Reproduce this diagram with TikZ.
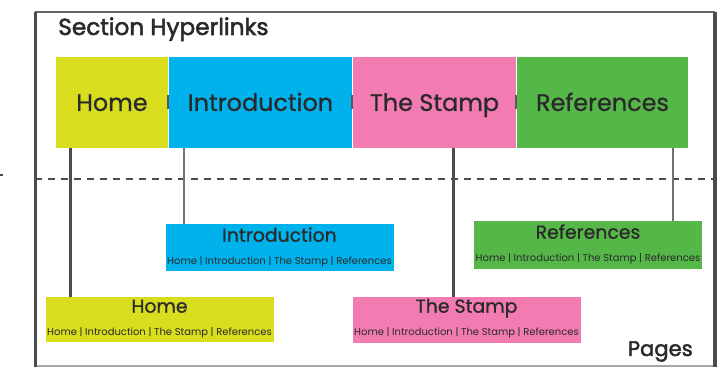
\documentclass[tikz,border=0pt]{standalone}
\usepackage{fontspec}
\setmainfont{Poppins}
\newfontfamily\headfont{Poppins}[FakeBold=2.2]
\newfontfamily\tabfont{Poppins}[FakeBold=0.8]
\definecolor{homeyellow}{HTML}{D8DE1E}
\definecolor{introblue}{HTML}{00B2EC}
\definecolor{stamppink}{HTML}{F27BB1}
\definecolor{refgreen}{HTML}{55B748}
\definecolor{inkdark}{HTML}{2A2A2A}
\newcommand\pxu{0.025cm}
\begin{document}
\begin{tikzpicture}[x=0.025cm, y=-0.025cm,
    tab/.style={inner sep=0pt, minimum height=91*\pxu, text=inkdark,
      font=\tabfont\fontsize{17}{20}\selectfont, text height=12pt, text depth=0pt},
    sepbar/.style={fill=black!65, inner sep=0pt, minimum width=2*\pxu, minimum height=14*\pxu},
    pagebox/.style={inner sep=0pt, minimum width=228*\pxu},
    pagetitle/.style={anchor=base, inner sep=0pt, text=inkdark, font=\tabfont\fontsize{13.4}{15}\selectfont},
    pagelinks/.style={anchor=base, inner sep=0pt, text=inkdark, font=\fontsize{7.1}{8}\selectfont},
    boldwire/.style={draw=black!70, line width=3*\pxu},
    thinwire/.style={draw=black!55, line width=1.8*\pxu}]
        \useasboundingbox (0,0) rectangle (726,367);

        \draw [black!35, line width=1.5*\pxu] (35,366) -- (715,366);
        \draw [black!60, line width=1.5*\pxu] (35,12) -- (715,12);
        \draw [black!70, line width=3*\pxu] (35,12) -- (35,367);
        \draw [black!70, line width=4*\pxu] (715,12) -- (715,367);

        \node [anchor=base west, inner sep=0pt, text=inkdark, font=\headfont\fontsize{16.5}{19}\selectfont] (secTitle) at (58,35) {Section Hyperlinks};
        \node [anchor=base east, inner sep=0pt, text=inkdark, font=\headfont\fontsize{15}{18}\selectfont] (pagesTitle) at (693,356) {Pages};

        \node [tab, fill=homeyellow, minimum width=112*\pxu] (homeTab) at (112,102.5) {Home};
        \node [tab, fill=introblue, minimum width=183*\pxu] (introTab) at (260.5,102.5) {Introduction};
        \node [tab, fill=stamppink, minimum width=163*\pxu] (stampTab) at (434.5,102.5) {The Stamp};
        \node [tab, fill=refgreen, minimum width=171*\pxu] (refTab) at (602.5,102.5) {References};

        \node [sepbar] (sepA) at (homeTab.east) {};
        \node [sepbar] (sepB) at (introTab.east) {};
        \node [sepbar] (sepC) at (stampTab.east) {};

        \draw [black!70, line width=2*\pxu, dash pattern=on 7*\pxu off 6*\pxu] (35,179) -- (715,179);
        \draw [black!70, line width=2*\pxu] (0,175) -- (3,175);

        \node [pagebox, fill=introblue, minimum height=47*\pxu] (introPg) at (279.5,247.5) {};
        \node [pagebox, fill=refgreen, minimum height=48*\pxu] (refPg) at (588,245) {};
        \node [pagebox, fill=homeyellow, minimum height=45*\pxu] (homePg) at (159.5,319.5) {};
        \node [pagebox, fill=stamppink, minimum height=46*\pxu] (stampPg) at (466.5,320) {};

        \node [pagetitle] (introPgT) at ([yshift=-18*\pxu]introPg.north) {Introduction};
        \node [pagelinks] (introPgL) at ([yshift=-41*\pxu]introPg.north) {Home | Introduction | The Stamp | References};
        \node [pagetitle] (refPgT) at ([yshift=-18*\pxu]refPg.north) {References};
        \node [pagelinks] (refPgL) at ([yshift=-41*\pxu]refPg.north) {Home | Introduction | The Stamp | References};
        \node [pagetitle] (homePgT) at ([yshift=-16*\pxu]homePg.north) {Home};
        \node [pagelinks] (homePgL) at ([yshift=-39*\pxu]homePg.north) {Home | Introduction | The Stamp | References};
        \node [pagetitle] (stampPgT) at ([yshift=-16*\pxu]stampPg.north) {The Stamp};
        \node [pagelinks] (stampPgL) at ([yshift=-39*\pxu]stampPg.north) {Home | Introduction | The Stamp | References};

        \coordinate (homeX) at (70,0);
        \coordinate (introX) at (184,0);
        \coordinate (stampX) at (453,0);
        \coordinate (refX) at (673,0);

        \draw [boldwire] (homeTab.south -| homeX) -- (homePg.north -| homeX);
        \draw [thinwire] (introTab.south -| introX) -- (introPg.north -| introX);
        \draw [boldwire] (stampTab.south -| stampX) -- (stampPg.north -| stampX);
        \draw [thinwire] (refTab.south -| refX) -- (refPg.north -| refX);
\end{tikzpicture}
\end{document}
